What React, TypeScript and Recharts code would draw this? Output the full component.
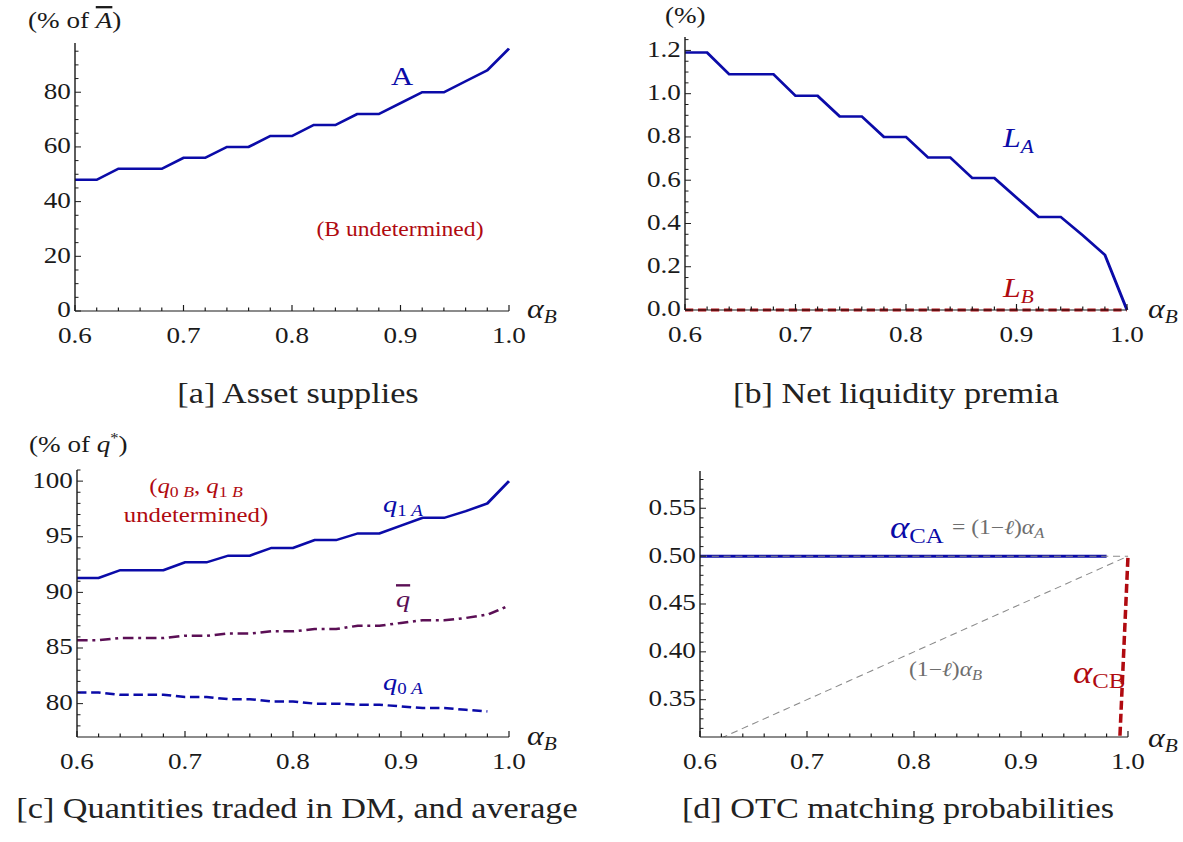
import React from "react";
import { LineChart, Line, XAxis, YAxis } from "recharts";

// the reference picture is stretched sideways, so the whole page is drawn narrow and scaled back out
const SX = 1.18;
const u = (px: number) => px / SX;

const SERIF = '"Liberation Serif", "Times New Roman", serif';
const BLUE = "#0b0ba8";
const RED = "#b00a10";
const PURPLE = "#5b0f55";
const GRAY = "#8a8a8a";
const INK = "#1a1a1a";

// x: alpha_B
const alphaB = [0.6, 0.62, 0.64, 0.66, 0.68, 0.7, 0.72, 0.74, 0.76, 0.78, 0.8, 0.82, 0.84, 0.86, 0.88, 0.9, 0.92, 0.94, 0.96, 0.98, 1.0];
const xMajor = [0.6, 0.7, 0.8, 0.9, 1.0];
const xLabels = ["0.6", "0.7", "0.8", "0.9", "1.0"];

// [a] asset supplies (% of A-bar)
const supplyA = [48, 48, 52, 52, 52, 56, 56, 60, 60, 64, 64, 68, 68, 72, 72, 76, 80, 80, 84, 88, 96];
const yMajorA = [0, 20, 40, 60, 80];
const yLabelsA = ["0", "20", "40", "60", "80"];

// [b] net liquidity premia (%)
const premiaLA = [1.19, 1.19, 1.09, 1.09, 1.09, 0.99, 0.99, 0.895, 0.895, 0.8, 0.8, 0.705, 0.705, 0.61, 0.61, 0.52, 0.43, 0.43, 0.345, 0.255, 0];
const premiaLB = [0, 0, 0, 0, 0, 0, 0, 0, 0, 0, 0, 0, 0, 0, 0, 0, 0, 0, 0, 0, 0];
const yMajorB = [0, 0.2, 0.4, 0.6, 0.8, 1.0, 1.2];
const yLabelsB = ["0.0", "0.2", "0.4", "0.6", "0.8", "1.0", "1.2"];

// [c] quantities traded in DM (% of q*)
const q1A = [91.3, 91.3, 92.0, 92.0, 92.0, 92.7, 92.7, 93.3, 93.3, 94.0, 94.0, 94.7, 94.7, 95.3, 95.3, 96.0, 96.7, 96.7, 97.3, 98.0, 100];
const qBar = [85.7, 85.7, 85.9, 85.9, 85.9, 86.1, 86.1, 86.3, 86.3, 86.5, 86.5, 86.7, 86.7, 87.0, 87.0, 87.25, 87.5, 87.5, 87.7, 88.0, 88.8];
const q0A = [81.0, 81.0, 80.8, 80.8, 80.8, 80.6, 80.6, 80.4, 80.4, 80.2, 80.2, 80.0, 80.0, 79.9, 79.9, 79.75, 79.6, 79.6, 79.45, 79.3, null];
const yMajorC = [80, 85, 90, 95, 100];
const yLabelsC = ["80", "85", "90", "95", "100"];

// [d] OTC matching probabilities
const alphaCA = [0.5, 0.5, 0.5, 0.5, 0.5, 0.5, 0.5, 0.5, 0.5, 0.5, 0.5, 0.5, 0.5, 0.5, 0.5, 0.5, 0.5, 0.5, 0.5, 0.5, null];
const alphaCB = [null, null, null, null, null, null, null, null, null, null, null, null, null, null, null, null, null, null, null, 0, 0.5];
const capA = [0.5, 0.5, 0.5, 0.5, 0.5, 0.5, 0.5, 0.5, 0.5, 0.5, 0.5, 0.5, 0.5, 0.5, 0.5, 0.5, 0.5, 0.5, 0.5, 0.5, 0.5];
const capB = [0.3, 0.31, 0.32, 0.33, 0.34, 0.35, 0.36, 0.37, 0.38, 0.39, 0.4, 0.41, 0.42, 0.43, 0.44, 0.45, 0.46, 0.47, 0.48, 0.49, 0.5];
const yMajorD = [0.35, 0.4, 0.45, 0.5, 0.55];
const yLabelsD = ["0.35", "0.40", "0.45", "0.50", "0.55"];

const steps = (from: number, to: number, step: number) =>
  Array.from({ length: Math.round((to - from) / step) + 1 }, (_, i) => +(from + i * step).toFixed(4));

const rowsA = alphaB.map((x, i) => ({ x, A: supplyA[i] }));
const rowsB = alphaB.map((x, i) => ({ x, LA: premiaLA[i], LB: premiaLB[i] }));
const rowsC = alphaB.map((x, i) => ({ x, q1A: q1A[i], qBar: qBar[i], q0A: q0A[i] }));
const rowsD = alphaB.map((x, i) => ({ x, CA: alphaCA[i], CB: alphaCB[i], capA: capA[i], capB: capB[i] }));

const isMajor = (list: number[], v: number) => list.findIndex((m) => Math.abs(m - v) < 1e-6);

const makeXTick = (majors: number[], labels: string[]) => (props: any) => {
  const { x, y, payload } = props;
  const i = isMajor(majors, payload.value);
  return (
    <g>
      <line x1={x} x2={x} y1={y} y2={y - (i >= 0 ? 6 : 3.5)} stroke={INK} strokeWidth={1} />
      {i >= 0 && (
        <text x={x} y={y + 32.5} textAnchor="middle" fontFamily={SERIF} fontSize={23} fill={INK}>
          {labels[i]}
        </text>
      )}
    </g>
  );
};

const makeYTick = (majors: number[], labels: string[]) => (props: any) => {
  const { x, y, payload } = props;
  const i = isMajor(majors, payload.value);
  return (
    <g>
      <line x1={x} x2={x + u(i >= 0 ? 6 : 3.5)} y1={y} y2={y} stroke={INK} strokeWidth={1} />
      {i >= 0 && (
        <text x={x - 3.5} y={y} dy="0.28em" textAnchor="end" fontFamily={SERIF} fontSize={23} fill={INK}>
          {labels[i]}
        </text>
      )}
    </g>
  );
};

type PanelProps = {
  box: [number, number, number, number]; // left, top, width, height on the page
  plot: [number, number, number, number]; // plot left, right, top, bottom on the page
  data: any[];
  yDomain: [number, number];
  yTicks: number[];
  yMajor: number[];
  yLabels: string[];
  clip?: boolean;
  children: React.ReactNode;
};

function Panel({ box, plot, data, yDomain, yTicks, yMajor, yLabels, clip, children }: PanelProps) {
  const [left, top, width, height] = box;
  // axes get 1px of room (a zero-sized axis is not drawn), the rest is margin
  const margin = {
    left: u(plot[0] - left) - 1,
    right: u(left + width - plot[1]),
    top: plot[2] - top,
    bottom: top + height - plot[3] - 1,
  };
  return (
    <div style={{ position: "absolute", left: u(left), top, width: u(width), height }}>
      <LineChart width={u(width)} height={height} data={data} margin={margin}>
        <XAxis
          dataKey="x"
          type="number"
          domain={[0.6, 1.0]}
          ticks={alphaB}
          interval={0}
          height={1}
          tickSize={0}
          tickMargin={0}
          tickLine={false}
          axisLine={{ stroke: INK, strokeWidth: 1.2 }}
          tick={makeXTick(xMajor, xLabels)}
        />
        <YAxis
          type="number"
          domain={yDomain}
          allowDataOverflow={!!clip}
          ticks={yTicks}
          interval={0}
          width={1}
          tickSize={0}
          tickMargin={0}
          tickLine={false}
          axisLine={{ stroke: INK, strokeWidth: 1.2 }}
          tick={makeYTick(yMajor, yLabels)}
        />
        {children}
      </LineChart>
    </div>
  );
}

const T = (p: any) => <text fontFamily={SERIF} {...p} />;

function Overlay() {
  return (
    <svg
      width={u(1183)}
      height={842}
      style={{ position: "absolute", left: 0, top: 0, pointerEvents: "none" }}
    >
      {/* [a] */}
      <T x={u(28)} y={28} fontSize={23} fill={INK}>
        (% of <tspan fontStyle="italic" style={{ textDecoration: "overline" }}>A</tspan>)
      </T>
      <T x={u(391)} y={85} fontSize={26} fill={BLUE}>A</T>
      <T x={u(400)} y={236} fontSize={20} fill={RED} textAnchor="middle">(B undetermined)</T>
      <T x={u(527)} y={318} fontSize={27} fontStyle="italic" fill={INK}>
        α<tspan dy={5} fontSize={18}>B</tspan>
      </T>
      <T x={u(298)} y={403} fontSize={29} fill="#222" textAnchor="middle">[a] Asset supplies</T>

      {/* [b] */}
      <T x={u(665)} y={23} fontSize={23} fill={INK}>(%)</T>
      <T x={u(1003)} y={147} fontSize={27} fontStyle="italic" fill={BLUE}>
        L<tspan dy={6} fontSize={18}>A</tspan>
      </T>
      <T x={u(1003)} y={297} fontSize={27} fontStyle="italic" fill={RED}>
        L<tspan dy={6} fontSize={18}>B</tspan>
      </T>
      <T x={u(1148)} y={318} fontSize={27} fontStyle="italic" fill={INK}>
        α<tspan dy={5} fontSize={18}>B</tspan>
      </T>
      <T x={u(896)} y={403} fontSize={29} fill="#222" textAnchor="middle">[b] Net liquidity premia</T>

      {/* [c] */}
      <T x={u(29)} y={452} fontSize={23} fill={INK}>
        (% of <tspan fontStyle="italic">q</tspan>
        <tspan dy={-9} fontSize={14}>*</tspan>
        <tspan dy={9}>)</tspan>
      </T>
      <T x={u(196)} y={493} fontSize={21} fill={RED} textAnchor="middle">
        (<tspan fontStyle="italic">q</tspan>
        <tspan dy={4} fontSize={15}>0 <tspan fontStyle="italic">B</tspan></tspan>
        <tspan dy={-4}>, </tspan>
        <tspan fontStyle="italic">q</tspan>
        <tspan dy={4} fontSize={15}>1 <tspan fontStyle="italic">B</tspan></tspan>
      </T>
      <T x={u(196)} y={522} fontSize={21} fill={RED} textAnchor="middle">undetermined)</T>
      <T x={u(383)} y={512} fontSize={24} fill={BLUE}>
        <tspan fontStyle="italic">q</tspan>
        <tspan dy={4} fontSize={16}>1 <tspan fontStyle="italic">A</tspan></tspan>
      </T>
      <T x={u(396)} y={607} fontSize={24} fill={PURPLE} fontStyle="italic" style={{ textDecoration: "overline" }}>
        q
      </T>
      <T x={u(383)} y={690} fontSize={24} fill={BLUE}>
        <tspan fontStyle="italic">q</tspan>
        <tspan dy={4} fontSize={16}>0 <tspan fontStyle="italic">A</tspan></tspan>
      </T>
      <T x={u(527)} y={745} fontSize={27} fontStyle="italic" fill={INK}>
        α<tspan dy={5} fontSize={18}>B</tspan>
      </T>
      <T x={u(297)} y={818} fontSize={29} fill="#222" textAnchor="middle">[c] Quantities traded in DM, and average</T>

      {/* [d] */}
      <T x={u(890)} y={538} fontSize={31} fill={BLUE}>
        <tspan fontStyle="italic">α</tspan>
        <tspan dy={5} fontSize={21}>CA</tspan>
      </T>
      <T x={u(952)} y={534} fontSize={20} fill="#6e6e6e">
        = (1−<tspan fontStyle="italic">ℓ</tspan>)<tspan fontStyle="italic">α</tspan>
        <tspan dy={4} fontSize={14} fontStyle="italic">A</tspan>
      </T>
      <T x={u(909)} y={676} fontSize={20} fill="#6e6e6e">
        (1−<tspan fontStyle="italic">ℓ</tspan>)<tspan fontStyle="italic">α</tspan>
        <tspan dy={4} fontSize={14} fontStyle="italic">B</tspan>
      </T>
      <T x={u(1073)} y={683} fontSize={31} fill={RED}>
        <tspan fontStyle="italic">α</tspan>
        <tspan dy={5} fontSize={21}>CB</tspan>
      </T>
      <T x={u(1148)} y={747} fontSize={27} fontStyle="italic" fill={INK}>
        α<tspan dy={5} fontSize={18}>B</tspan>
      </T>
      <T x={u(898)} y={818} fontSize={29} fill="#222" textAnchor="middle">[d] OTC matching probabilities</T>
    </svg>
  );
}

export default function App() {
  return (
    <div
      style={{
        position: "absolute",
        left: 0,
        top: 0,
        width: u(1183),
        height: 842,
        background: "#fff",
        transform: `scaleX(${SX})`,
        transformOrigin: "0 0",
      }}
    >
      <Panel
        box={[0, 0, 590, 360]}
        plot={[75, 509, 43, 311]}
        data={rowsA}
        yDomain={[0, 98]}
        yTicks={steps(0, 95, 5)}
        yMajor={yMajorA}
        yLabels={yLabelsA}
      >
        <Line type="linear" dataKey="A" stroke={BLUE} strokeWidth={2.5} dot={false} isAnimationActive={false} />
      </Panel>

      <Panel
        box={[590, 0, 593, 360]}
        plot={[685, 1127, 37, 310]}
        data={rowsB}
        yDomain={[0, 1.262]}
        yTicks={steps(0, 1.25, 0.05)}
        yMajor={yMajorB}
        yLabels={yLabelsB}
      >
        <Line type="linear" dataKey="LA" stroke={BLUE} strokeWidth={2.5} dot={false} isAnimationActive={false} />
        <Line
          type="linear"
          dataKey="LB"
          stroke={RED}
          strokeWidth={3}
          strokeDasharray="7 4"
          dot={false}
          isAnimationActive={false}
        />
      </Panel>

      <Panel
        box={[0, 420, 590, 360]}
        plot={[77, 509, 470, 737]}
        data={rowsC}
        yDomain={[77, 101]}
        yTicks={steps(78, 101, 1)}
        yMajor={yMajorC}
        yLabels={yLabelsC}
      >
        <Line type="linear" dataKey="q1A" stroke={BLUE} strokeWidth={2.5} dot={false} isAnimationActive={false} />
        <Line
          type="linear"
          dataKey="qBar"
          stroke={PURPLE}
          strokeWidth={2.5}
          strokeDasharray="9 4 2.5 4"
          dot={false}
          isAnimationActive={false}
        />
        <Line
          type="linear"
          dataKey="q0A"
          stroke={BLUE}
          strokeWidth={2.5}
          strokeDasharray="8 4"
          dot={false}
          isAnimationActive={false}
        />
      </Panel>

      <Panel
        box={[590, 420, 593, 360]}
        plot={[700, 1128, 471, 737]}
        data={rowsD}
        yDomain={[0.311, 0.589]}
        yTicks={steps(0.32, 0.58, 0.01)}
        yMajor={yMajorD}
        yLabels={yLabelsD}
        clip
      >
        <Line type="linear" dataKey="CA" stroke={BLUE} strokeWidth={3} dot={false} isAnimationActive={false} />
        <Line
          type="linear"
          dataKey="capA"
          stroke={GRAY}
          strokeWidth={1}
          strokeDasharray="6 4"
          dot={false}
          isAnimationActive={false}
        />
        <Line
          type="linear"
          dataKey="capB"
          stroke={GRAY}
          strokeWidth={1}
          strokeDasharray="6 4"
          dot={false}
          isAnimationActive={false}
        />
        <Line
          type="linear"
          dataKey="CB"
          stroke={RED}
          strokeWidth={3}
          strokeDasharray="9 4"
          dot={false}
          isAnimationActive={false}
        />
      </Panel>

      <Overlay />
    </div>
  );
}
